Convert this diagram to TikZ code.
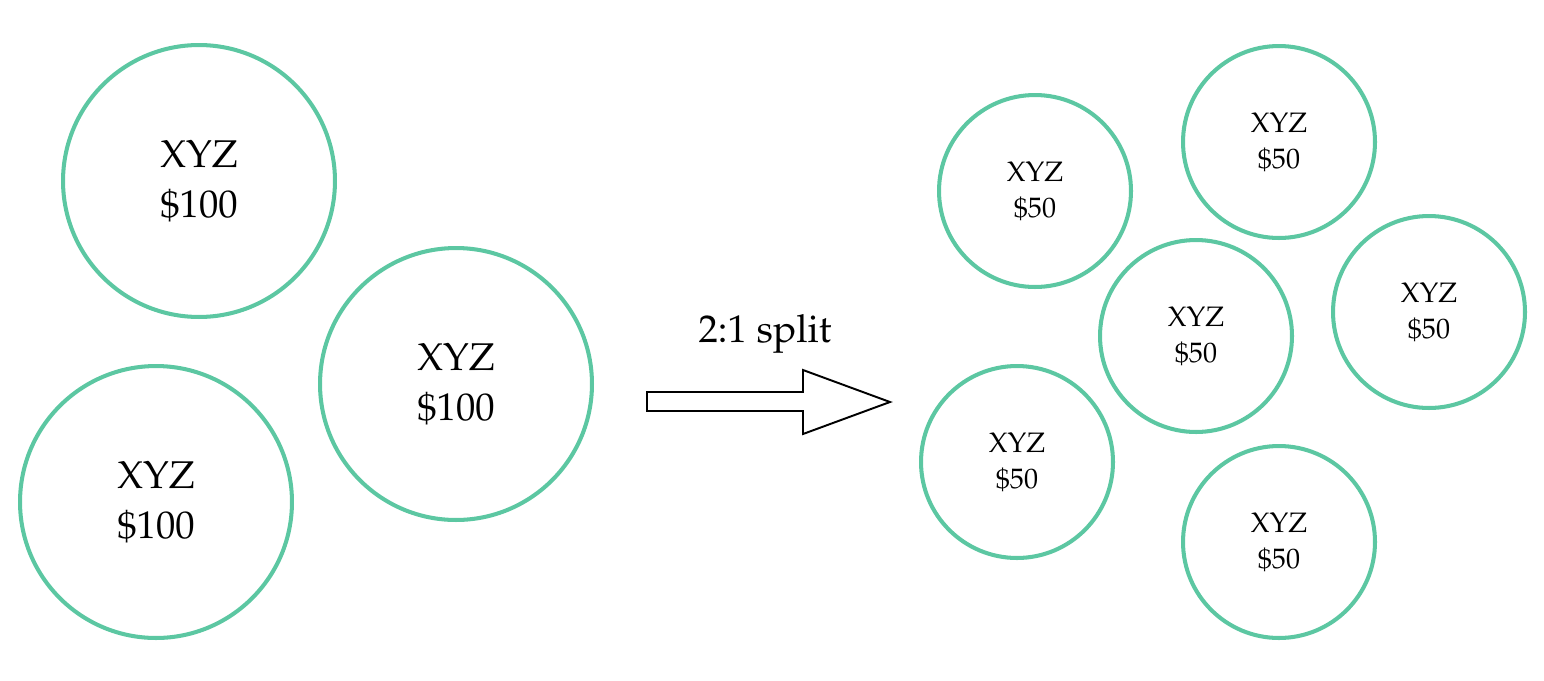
\documentclass[tikz,border=0pt]{standalone}
\usepackage[T1]{fontenc}
\renewcommand{\rmdefault}{ppl}
\definecolor{mygreen}{RGB}{92,199,162}
\usetikzlibrary{positioning}
\tikzset{bigshare/.style={draw=mygreen,line width=2.3pt,circle,minimum size=5.44cm,inner sep=0pt,align=center,font=\fontsize{22}{28.5}\selectfont}}
\tikzset{smallshare/.style={draw=mygreen,line width=2.3pt,circle,minimum size=3.84cm,inner sep=0pt,align=center,font=\fontsize{16}{20.5}\selectfont}}
\begin{document}
\begin{tikzpicture}[x=0.02cm,y=-0.02cm]
\useasboundingbox (0,0) rectangle (1544,680);
% before the split
\draw (199, 181) node [bigshare] (b1) {XYZ\\\$100};
\draw (156, 502) node [bigshare] (b2) {XYZ\\\$100};
\draw (456, 384) node [bigshare] (b3) {XYZ\\\$100};
% after the split
\draw (1035, 191) node [smallshare] (s1) {XYZ\\\$50};
\draw (1279, 142) node [smallshare] (s2) {XYZ\\\$50};
\draw (1196, 336) node [smallshare] (s3) {XYZ\\\$50};
\draw (1429, 312) node [smallshare] (s4) {XYZ\\\$50};
\draw (1017, 462) node [smallshare] (s5) {XYZ\\\$50};
\draw (1279, 542) node [smallshare] (s6) {XYZ\\\$50};
% arrow
\draw[line width=1.1pt,line join=miter] (647,392) -- (803,392) -- (803,370) -- (890,402) -- (803,434) -- (803,411) -- (647,411) -- cycle;
\draw (765, 342) node [anchor=base,font=\fontsize{22}{26}\selectfont] (lbl) {2:1 split};
\end{tikzpicture}
\end{document}
